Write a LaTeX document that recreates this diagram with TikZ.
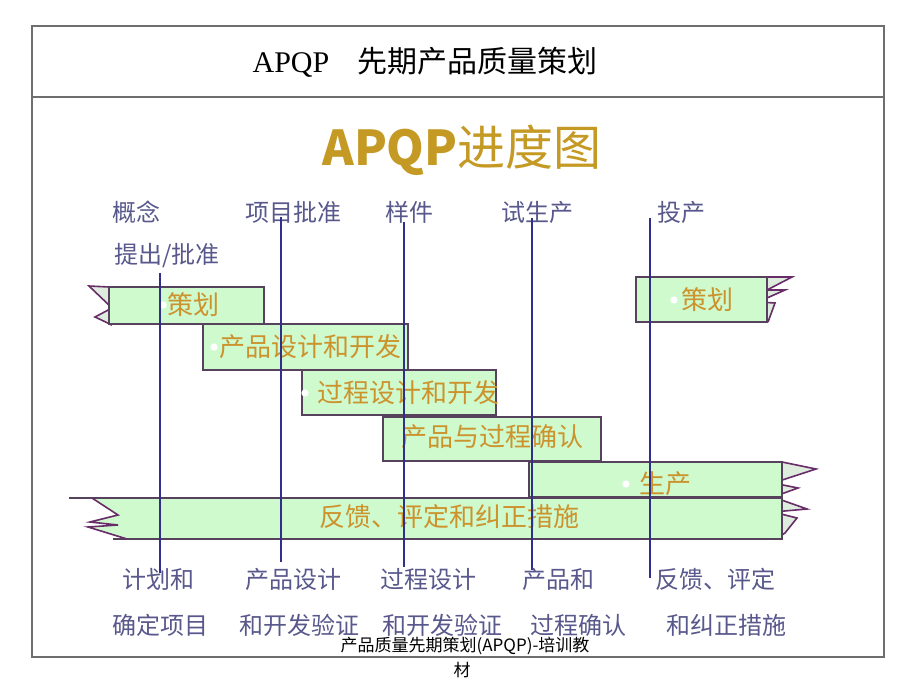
\documentclass[tikz,border=0pt]{standalone}
\usepackage{fontspec}
\setmainfont{Noto Sans CJK SC}
\newfontfamily\headfont{Liberation Serif}
\usepackage{xcolor}
\usepackage{tikz}
\definecolor{apGold}{RGB}{196,154,36}
\definecolor{apOrange}{RGB}{204,146,44}
\definecolor{apSlate}{RGB}{88,88,140}
\definecolor{apLine}{RGB}{48,48,140}
\definecolor{apGreen}{RGB}{206,250,206}
\definecolor{apTail}{RGB}{222,236,222}
\definecolor{apEdge}{RGB}{86,66,92}
\definecolor{apZig}{RGB}{104,44,104}
\definecolor{apFrame}{RGB}{110,110,110}
\tikzstyle{bar} = [draw=apEdge,line width=1pt,fill=apGreen]
\tikzstyle{tail} = [draw=apZig,line width=0.8pt,fill=apTail,line join=miter]
\tikzstyle{bartext} = [inner sep=0pt,text=apOrange,font=\fontsize{13}{13}\selectfont]
\tikzstyle{label} = [inner sep=0pt,text=apSlate,font=\fontsize{12}{12}\selectfont]
\tikzstyle{mline} = [draw=apLine,line width=0.9pt]
\tikzstyle{dot} = [fill=white,circle,inner sep=1.3pt]

\begin{document}
\begin{tikzpicture}[x=0.5pt,y=-0.5pt]

    \useasboundingbox (0,0) rectangle (920,690); % page size of the slide
    \fill[white] (0,0) rectangle (920,690);

    % frame and header
    \draw[apFrame,line width=1.2pt] (32,26) rectangle (884,657);
    \draw[apFrame,line width=1.2pt] (32,97) -- (884,97);
    \node[inner sep=0pt,font=\fontsize{15}{15}\selectfont] (head) at (425,62)
        {{\headfont APQP}\hspace{14pt}先期产品质量策划};
    \node[inner sep=0pt,text=apGold,font=\fontsize{24}{24}\selectfont] (chart) at (462,150)
        {\textbf{APQP}进度图};

    % milestones on top
    \node[label] (concept) at (136,212) {概念};
    \node[label] (approve) at (167,256) {提出/批准};
    \node[label] (project) at (293,212) {项目批准};
    \node[label] (proto) at (409,212) {样件};
    \node[label] (pilot) at (537,212) {试生产};
    \node[label] (launch) at (681,212) {投产};

    % tails
    \draw[tail] (109,287) -- (89,286) -- (112,308) -- (95,317) -- (112,325) -- (109,324);
    \draw[tail] (767,277) -- (792,277) -- (767,290) -- (785,290) -- (758,302) -- (775,303) -- (768,322);
    \draw[tail] (782,462) -- (816,469) -- (773,483) -- (798,488) -- (773,497) -- (807,509)
        -- (773,512) -- (797,518) -- (785,533) -- (782,535);

    % bars
    \draw[bar] (109,287) rectangle (264,324);
    \draw[bar] (203,324) rectangle (408,370);
    \draw[bar] (302,370) rectangle (496,415);
    \draw[bar] (383,417) rectangle (601,461);
    \draw[bar] (529,462) rectangle (782,497);
    \draw[bar] (636,277) rectangle (767,322);
    \fill[apGreen] (92,498) -- (118,515) -- (90,522) -- (118,525) -- (88,527) -- (127,539)
        -- (782,539) -- (782,498) -- cycle;
    \draw[apEdge,line width=1pt] (69,498) -- (782,498) -- (782,539) -- (113,539);
    \draw[apZig,line width=0.8pt] (92,498) -- (118,515) -- (90,522) -- (118,525) -- (88,527) -- (127,539);

    % bar texts
    \node[dot] (d1) at (163,305) {};
    \node[bartext] (plan) at (193,305) {策划};
    \node[dot] (d2) at (214,347) {};
    \node[bartext] (pdev) at (310,347) {产品设计和开发};
    \node[dot] (d3) at (305,393) {};
    \node[bartext] (prdev) at (408,393) {过程设计和开发};
    \node[bartext] (valid) at (492,437) {产品与过程确认};
    \node[dot] (d4) at (626,484) {};
    \node[bartext] (prod) at (665,484) {生产};
    \node[bartext] (feed) at (449,517) {反馈、评定和纠正措施};
    \node[dot] (d5) at (674,300) {};
    \node[bartext] (plan2) at (707,300) {策划};

    % milestone lines
    \foreach \n/\x/\ya/\yb in {1/160/273/573,2/281/217/562,3/404/222/567,4/532/218/570,5/650/218/578}{
      \coordinate (top\n) at (\x,\ya);
      \coordinate (bot\n) at (\x,\yb);
      \draw[mline] (top\n) -- (bot\n);
    }

    % phases below
    \node[label] (plana) at (158,579) {计划和};
    \node[label] (planb) at (160,625) {确定项目};
    \node[label] (pdeva) at (293,579) {产品设计};
    \node[label] (pdevb) at (299,625) {和开发验证};
    \node[label] (prdeva) at (428,579) {过程设计};
    \node[label] (prdevb) at (442,625) {和开发验证};
    \node[label] (valida) at (558,579) {产品和};
    \node[label] (validb) at (578,625) {过程确认};
    \node[label] (feeda) at (715,579) {反馈、评定};
    \node[label] (feedb) at (726,625) {和纠正措施};

    % footer
    \node[inner sep=0pt,font=\fontsize{8.5}{8.5}\selectfont] (foot) at (465,646) {产品质量先期策划(APQP)-培训教};
    \node[inner sep=0pt,font=\fontsize{8.5}{8.5}\selectfont] (foot2) at (462,670) {材};

\end{tikzpicture}
\end{document}
